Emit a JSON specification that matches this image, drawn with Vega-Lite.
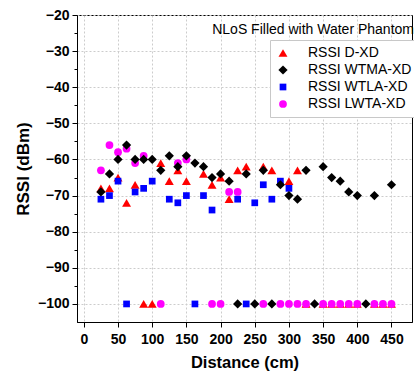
{
  "$schema": "https://vega.github.io/schema/vega-lite/v6.json",
  "width": 335,
  "height": 307,
  "autosize": {"type": "none"},
  "padding": {"left": 77, "top": 15, "right": 2, "bottom": 53},
  "background": "white",
  "title": {
    "text": "NLoS Filled with Water Phantom",
    "anchor": "end",
    "frame": "group",
    "orient": "top",
    "offset": -29,
    "dx": 2,
    "font": "Liberation Sans",
    "fontSize": 14,
    "fontWeight": "normal",
    "color": "black"
  },
  "config": {
    "view": {"stroke": "black", "strokeWidth": 1},
    "font": "Liberation Sans"
  },
  "datasets": {
    "rssi": [
      {"series": "RSSI D-XD", "distance": 25, "rssi": -68},
      {"series": "RSSI D-XD", "distance": 37.5, "rssi": -68},
      {"series": "RSSI D-XD", "distance": 50, "rssi": -65},
      {"series": "RSSI D-XD", "distance": 62.5, "rssi": -72},
      {"series": "RSSI D-XD", "distance": 75, "rssi": -67},
      {"series": "RSSI D-XD", "distance": 87.5, "rssi": -100},
      {"series": "RSSI D-XD", "distance": 100, "rssi": -100},
      {"series": "RSSI D-XD", "distance": 112.5, "rssi": -61},
      {"series": "RSSI D-XD", "distance": 125, "rssi": -66},
      {"series": "RSSI D-XD", "distance": 137.5, "rssi": -63},
      {"series": "RSSI D-XD", "distance": 150, "rssi": -66},
      {"series": "RSSI D-XD", "distance": 175, "rssi": -64},
      {"series": "RSSI D-XD", "distance": 187.5, "rssi": -67},
      {"series": "RSSI D-XD", "distance": 200, "rssi": -65},
      {"series": "RSSI D-XD", "distance": 212.5, "rssi": -71},
      {"series": "RSSI D-XD", "distance": 225, "rssi": -63},
      {"series": "RSSI D-XD", "distance": 237.5, "rssi": -62},
      {"series": "RSSI D-XD", "distance": 262.5, "rssi": -62},
      {"series": "RSSI D-XD", "distance": 275, "rssi": -63},
      {"series": "RSSI D-XD", "distance": 300, "rssi": -66},
      {"series": "RSSI D-XD", "distance": 312.5, "rssi": -63},
      {"series": "RSSI D-XD", "distance": 325, "rssi": -100},
      {"series": "RSSI D-XD", "distance": 350, "rssi": -100},
      {"series": "RSSI D-XD", "distance": 362.5, "rssi": -100},
      {"series": "RSSI D-XD", "distance": 375, "rssi": -100},
      {"series": "RSSI D-XD", "distance": 387.5, "rssi": -100},
      {"series": "RSSI D-XD", "distance": 400, "rssi": -100},
      {"series": "RSSI D-XD", "distance": 425, "rssi": -100},
      {"series": "RSSI D-XD", "distance": 437.5, "rssi": -100},
      {"series": "RSSI D-XD", "distance": 450, "rssi": -100},
      {"series": "RSSI LWTA-XD", "distance": 25, "rssi": -63},
      {"series": "RSSI LWTA-XD", "distance": 37.5, "rssi": -56},
      {"series": "RSSI LWTA-XD", "distance": 50, "rssi": -58},
      {"series": "RSSI LWTA-XD", "distance": 62.5, "rssi": -57},
      {"series": "RSSI LWTA-XD", "distance": 75, "rssi": -61},
      {"series": "RSSI LWTA-XD", "distance": 87.5, "rssi": -59},
      {"series": "RSSI LWTA-XD", "distance": 112.5, "rssi": -100},
      {"series": "RSSI LWTA-XD", "distance": 137.5, "rssi": -61},
      {"series": "RSSI LWTA-XD", "distance": 150, "rssi": -60},
      {"series": "RSSI LWTA-XD", "distance": 187.5, "rssi": -100},
      {"series": "RSSI LWTA-XD", "distance": 200, "rssi": -100},
      {"series": "RSSI LWTA-XD", "distance": 212.5, "rssi": -69},
      {"series": "RSSI LWTA-XD", "distance": 225, "rssi": -69},
      {"series": "RSSI LWTA-XD", "distance": 262.5, "rssi": -100},
      {"series": "RSSI LWTA-XD", "distance": 287.5, "rssi": -100},
      {"series": "RSSI LWTA-XD", "distance": 300, "rssi": -100},
      {"series": "RSSI LWTA-XD", "distance": 312.5, "rssi": -100},
      {"series": "RSSI LWTA-XD", "distance": 325, "rssi": -100},
      {"series": "RSSI LWTA-XD", "distance": 350, "rssi": -100},
      {"series": "RSSI LWTA-XD", "distance": 362.5, "rssi": -100},
      {"series": "RSSI LWTA-XD", "distance": 375, "rssi": -100},
      {"series": "RSSI LWTA-XD", "distance": 387.5, "rssi": -100},
      {"series": "RSSI LWTA-XD", "distance": 400, "rssi": -100},
      {"series": "RSSI LWTA-XD", "distance": 425, "rssi": -100},
      {"series": "RSSI LWTA-XD", "distance": 437.5, "rssi": -100},
      {"series": "RSSI LWTA-XD", "distance": 450, "rssi": -100},
      {"series": "RSSI WTLA-XD", "distance": 25, "rssi": -71},
      {"series": "RSSI WTLA-XD", "distance": 37.5, "rssi": -70},
      {"series": "RSSI WTLA-XD", "distance": 50, "rssi": -66},
      {"series": "RSSI WTLA-XD", "distance": 62.5, "rssi": -100},
      {"series": "RSSI WTLA-XD", "distance": 75, "rssi": -69},
      {"series": "RSSI WTLA-XD", "distance": 87.5, "rssi": -68},
      {"series": "RSSI WTLA-XD", "distance": 100, "rssi": -66},
      {"series": "RSSI WTLA-XD", "distance": 125, "rssi": -71},
      {"series": "RSSI WTLA-XD", "distance": 137.5, "rssi": -72},
      {"series": "RSSI WTLA-XD", "distance": 150, "rssi": -70},
      {"series": "RSSI WTLA-XD", "distance": 162.5, "rssi": -100},
      {"series": "RSSI WTLA-XD", "distance": 175, "rssi": -70},
      {"series": "RSSI WTLA-XD", "distance": 187.5, "rssi": -74},
      {"series": "RSSI WTLA-XD", "distance": 225, "rssi": -71},
      {"series": "RSSI WTLA-XD", "distance": 237.5, "rssi": -100},
      {"series": "RSSI WTLA-XD", "distance": 250, "rssi": -72},
      {"series": "RSSI WTLA-XD", "distance": 262.5, "rssi": -67},
      {"series": "RSSI WTLA-XD", "distance": 275, "rssi": -71},
      {"series": "RSSI WTLA-XD", "distance": 287.5, "rssi": -66},
      {"series": "RSSI WTLA-XD", "distance": 300, "rssi": -68},
      {"series": "RSSI WTMA-XD", "distance": 25, "rssi": -69},
      {"series": "RSSI WTMA-XD", "distance": 37.5, "rssi": -64},
      {"series": "RSSI WTMA-XD", "distance": 50, "rssi": -60},
      {"series": "RSSI WTMA-XD", "distance": 62.5, "rssi": -56},
      {"series": "RSSI WTMA-XD", "distance": 75, "rssi": -60},
      {"series": "RSSI WTMA-XD", "distance": 87.5, "rssi": -60},
      {"series": "RSSI WTMA-XD", "distance": 100, "rssi": -60},
      {"series": "RSSI WTMA-XD", "distance": 112.5, "rssi": -63},
      {"series": "RSSI WTMA-XD", "distance": 125, "rssi": -59},
      {"series": "RSSI WTMA-XD", "distance": 137.5, "rssi": -62},
      {"series": "RSSI WTMA-XD", "distance": 150, "rssi": -59},
      {"series": "RSSI WTMA-XD", "distance": 162.5, "rssi": -61},
      {"series": "RSSI WTMA-XD", "distance": 175, "rssi": -62},
      {"series": "RSSI WTMA-XD", "distance": 187.5, "rssi": -65},
      {"series": "RSSI WTMA-XD", "distance": 200, "rssi": -64},
      {"series": "RSSI WTMA-XD", "distance": 212.5, "rssi": -66},
      {"series": "RSSI WTMA-XD", "distance": 225, "rssi": -100},
      {"series": "RSSI WTMA-XD", "distance": 237.5, "rssi": -64},
      {"series": "RSSI WTMA-XD", "distance": 250, "rssi": -100},
      {"series": "RSSI WTMA-XD", "distance": 262.5, "rssi": -63},
      {"series": "RSSI WTMA-XD", "distance": 275, "rssi": -100},
      {"series": "RSSI WTMA-XD", "distance": 287.5, "rssi": -67},
      {"series": "RSSI WTMA-XD", "distance": 300, "rssi": -70},
      {"series": "RSSI WTMA-XD", "distance": 312.5, "rssi": -71},
      {"series": "RSSI WTMA-XD", "distance": 325, "rssi": -63},
      {"series": "RSSI WTMA-XD", "distance": 337.5, "rssi": -100},
      {"series": "RSSI WTMA-XD", "distance": 350, "rssi": -62},
      {"series": "RSSI WTMA-XD", "distance": 362.5, "rssi": -65},
      {"series": "RSSI WTMA-XD", "distance": 375, "rssi": -66},
      {"series": "RSSI WTMA-XD", "distance": 387.5, "rssi": -69},
      {"series": "RSSI WTMA-XD", "distance": 400, "rssi": -70},
      {"series": "RSSI WTMA-XD", "distance": 412.5, "rssi": -100},
      {"series": "RSSI WTMA-XD", "distance": 425, "rssi": -70},
      {"series": "RSSI WTMA-XD", "distance": 450, "rssi": -67}
    ]
  },
  "data": {"name": "rssi"},
  "mark": {"type": "point", "filled": true, "opacity": 1, "strokeWidth": 0},
  "encoding": {
    "x": {
      "field": "distance", "type": "quantitative",
      "scale": {"domain": [-10, 480], "nice": false, "zero": false},
      "axis": {
        "title": "Distance (cm)",
        "values": [0, 50, 100, 150, 200, 250, 300, 350, 400, 450],
        "domainColor": "black",
        "tickColor": "black",
        "tickSize": 5,
        "labelFontSize": 14, "labelFontWeight": "bold", "labelColor": "black", "labelPadding": 5,
        "titleFontSize": 16.5, "titleFontWeight": "bold", "titleColor": "black", "titlePadding": 8,
        "gridColor": "#cccccc", "gridDash": [2, 2]
      }
    },
    "y": {
      "field": "rssi", "type": "quantitative",
      "scale": {"domain": [-105, -20], "nice": false, "zero": false},
      "axis": {
        "title": "RSSI (dBm)",
        "values": [-100, -95, -90, -85, -80, -75, -70, -65, -60, -55, -50, -45, -40, -35, -30, -25, -20],
        "labelExpr": "datum.value % 10 === 0 ? datum.label : ''",
        "labelOverlap": false,
        "domainColor": "black", "domainWidth": 1,
        "tickColor": "black",
        "tickSize": {"condition": {"test": "datum.value % 10 === 0", "value": 5}, "value": 3},
        "labelFontSize": 14, "labelFontWeight": "bold", "labelColor": "black", "labelPadding": 3,
        "titleFontSize": 17, "titleFontWeight": "bold", "titleColor": "black", "titlePadding": 5,
        "grid": true, "gridColor": "#cccccc", "gridDash": [2, 2], "gridWidth": 1,
        "gridOpacity": {"condition": {"test": "datum.value % 10 === 0", "value": 1}, "value": 0}
      }
    },
    "color": {
      "field": "series", "type": "nominal",
      "scale": {
        "domain": ["RSSI D-XD", "RSSI WTMA-XD", "RSSI WTLA-XD", "RSSI LWTA-XD"],
        "range": ["#ff0000", "#000000", "#0000ff", "#ff00ff"]
      },
      "legend": {
        "title": null,
        "orient": "none", "legendX": 193, "legendY": 25, "direction": "vertical",
        "strokeColor": "#c8c8c8", "fillColor": "white", "padding": 6,
        "labelFontSize": 14, "labelColor": "black",
        "labelOffset": 18, "rowPadding": 3, "symbolStrokeWidth": 0
      }
    },
    "shape": {
      "field": "series", "type": "nominal",
      "scale": {
        "domain": ["RSSI D-XD", "RSSI WTMA-XD", "RSSI WTLA-XD", "RSSI LWTA-XD"],
        "range": ["triangle-up", "diamond", "square", "circle"]
      }
    },
    "size": {
      "field": "series", "type": "nominal",
      "scale": {
        "type": "ordinal",
        "domain": ["RSSI D-XD", "RSSI WTMA-XD", "RSSI WTLA-XD", "RSSI LWTA-XD"],
        "range": [80, 85, 45, 60]
      }
    }
  }
}
